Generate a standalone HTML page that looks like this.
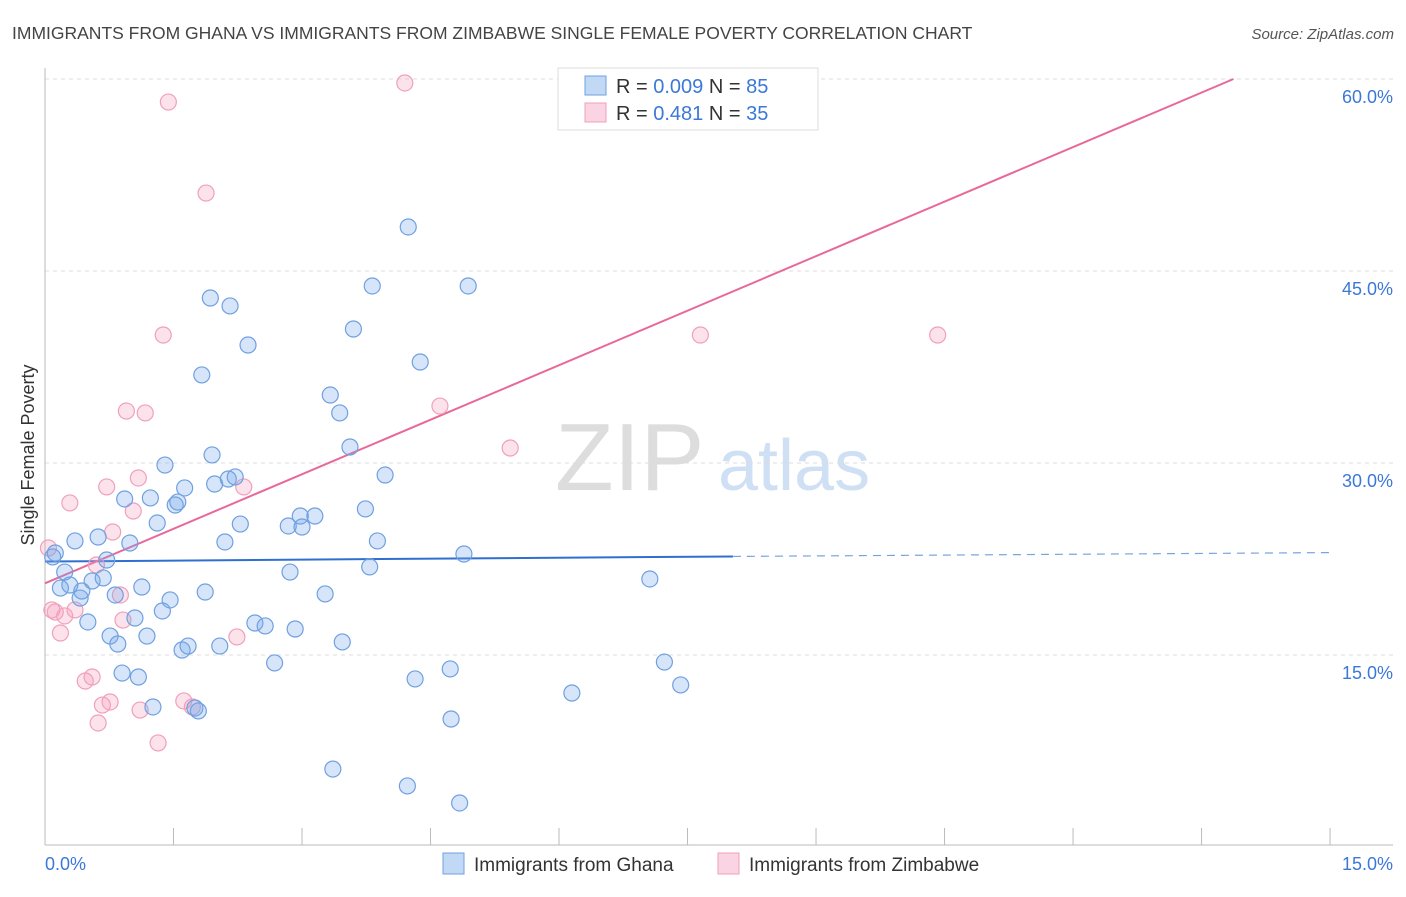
<!DOCTYPE html>
<html><head><meta charset="utf-8"><style>
body{margin:0;background:#fff;font-family:"Liberation Sans",sans-serif;}
svg text{font-family:"Liberation Sans",sans-serif;}
</style></head><body>
<svg id="chart" width="1406" height="892" viewBox="0 0 1406 892" xmlns="http://www.w3.org/2000/svg">
<text x="12" y="39" font-size="17.5" fill="#444">IMMIGRANTS FROM GHANA VS IMMIGRANTS FROM ZIMBABWE SINGLE FEMALE POVERTY CORRELATION CHART</text>
<text x="1394" y="39" font-size="15" fill="#555" text-anchor="end" font-style="italic">Source: ZipAtlas.com</text>
<g>
<text x="555" y="490" font-size="96" fill="#ddd" font-family="Liberation Serif,serif">ZIP</text>
<text x="718" y="490" font-size="72" fill="#cfe0f5">atlas</text>
</g>
<text transform="translate(34,455) rotate(-90)" font-size="18" fill="#333" text-anchor="middle">Single Female Poverty</text>
<g id="grid"></g><g id="axes"></g><g id="lines"></g><g id="pts"></g>
<g>
<rect x="558" y="68" width="260" height="62" fill="#fff" stroke="#ddd"/>
<rect x="585" y="76" width="21" height="19" fill="rgba(120,170,235,0.45)" stroke="#6fa0e0"/>
<rect x="585" y="103" width="21" height="19" fill="rgba(245,160,190,0.45)" stroke="#f0a0bb"/>
<text x="616" y="93" font-size="20" fill="#333">R = <tspan fill="#3b78d8">0.009</tspan>   N = <tspan fill="#3b78d8">85</tspan></text>
<text x="616" y="120" font-size="20" fill="#333">R =  <tspan fill="#3b78d8">0.481</tspan>   N = <tspan fill="#3b78d8">35</tspan></text>
</g>
<g>
<rect x="443" y="853" width="21" height="21" fill="rgba(120,170,235,0.45)" stroke="#6fa0e0"/>
<text x="474" y="871" font-size="19" fill="#333">Immigrants from Ghana</text>
<rect x="718" y="853" width="21" height="21" fill="rgba(245,160,190,0.45)" stroke="#f0a0bb"/>
<text x="749" y="871" font-size="19" fill="#333">Immigrants from Zimbabwe</text>
</g>
</svg>
<script>
const ghanaX=[0.12,0.09,0.35,0.23,0.18,0.29,0.41,0.43,0.50,0.55,0.62,0.68,0.72,0.76,0.82,0.85,0.90,0.93,0.99,1.05,1.09,1.13,1.19,1.23,1.26,1.31,1.37,1.40,1.46,1.52,1.55,1.60,1.63,1.67,1.75,1.79,1.83,1.87,1.93,1.95,1.98,2.04,2.10,2.14,2.16,2.22,2.28,2.37,2.45,2.57,2.68,2.84,2.86,2.92,2.98,3.00,3.15,3.27,3.33,3.36,3.44,3.47,3.56,3.60,3.74,3.79,3.82,3.88,3.97,4.23,4.24,4.32,4.38,4.73,4.74,4.84,4.89,4.94,6.15,7.06,7.23,7.42];
const ghanaY=[22.97,22.66,23.91,21.48,20.23,20.47,19.45,20.0,17.58,20.78,24.22,21.02,22.42,16.48,19.69,15.86,13.59,27.19,23.75,17.89,13.28,20.31,16.48,27.27,10.94,25.31,18.44,29.84,19.30,26.72,26.95,15.39,28.05,15.70,10.86,10.63,36.88,19.92,42.89,30.63,28.36,15.70,23.83,28.75,42.27,28.91,25.23,39.22,17.5,17.27,14.38,25.08,21.48,17.03,25.86,25.0,25.86,19.77,35.31,6.09,33.91,16.02,31.25,40.47,26.41,21.88,43.83,23.91,29.06,4.77,48.44,13.13,37.89,13.91,10.0,3.44,22.89,43.83,12.03,20.94,14.45,12.66];
const zimX=[0.04,0.08,0.12,0.18,0.23,0.29,0.35,0.47,0.55,0.60,0.62,0.67,0.72,0.76,0.79,0.88,0.91,0.95,1.03,1.09,1.11,1.17,1.32,1.38,1.44,1.62,1.72,1.88,2.24,2.32,4.20,4.61,5.43,7.65,10.42];
const zimY=[23.36,18.52,18.36,16.72,18.05,26.88,18.52,12.97,13.28,22.03,9.69,11.09,28.13,11.33,24.61,19.69,17.73,34.06,26.25,28.83,10.70,33.91,8.13,40.0,58.2,11.41,10.94,51.09,16.41,28.13,59.69,34.45,31.17,40.0,40.0];
const yTicks=[15,30,45,60];
const yTickLabels=["15.0%","30.0%","45.0%","60.0%"];
const xTickVals=[0,1.5,3,4.5,6,7.5,9,10.5,12,13.5,15];
const ghanaTrend=[22.3,22.7,23.0]; // at x=0, 8.03, 15
const zimTrend=[20.6,2.84]; // intercept, slope
const NS='http://www.w3.org/2000/svg';
const sx=v=>45+v*85.67, sy=v=>847-v*12.8;
function mk(tag,attrs,parent){const e=document.createElementNS(NS,tag);for(const k in attrs)e.setAttribute(k,attrs[k]);document.getElementById(parent).appendChild(e);return e;}
yTicks.forEach((t,i)=>{
 const g=mk('line',{x1:45,x2:1393,y1:sy(t),y2:sy(t),stroke:'#ddd','stroke-dasharray':'4,4'},'grid');
 
 
 const l=mk('text',{x:1393,y:sy(t)+24,'font-size':18,fill:'#3b78d8','text-anchor':'end'},'grid');
 l.textContent=yTickLabels[i];
 
 
});
const ax=mk('line',{x1:45,x2:45,y1:68,y2:845,stroke:'#bbb'},'axes');


const bx=mk('line',{x1:45,x2:1393,y1:845,y2:845,stroke:'#bbb'},'axes');


xTickVals.forEach(v=>{
 const t=mk('line',{x1:sx(v),x2:sx(v),y1:828,y2:845,stroke:'#bbb'},'axes');
 
 
});
const xl0=mk('text',{x:45,y:870,'font-size':18,fill:'#3b78d8'},'axes');xl0.textContent='0.0%';


const xl1=mk('text',{x:1393,y:870,'font-size':18,fill:'#3b78d8','text-anchor':'end'},'axes');xl1.textContent='15.0%';


function dots(xs,ys,fill,stroke,name){xs.forEach((x,i)=>{
 const c=mk('circle',{cx:sx(x),cy:sy(ys[i]),r:8,fill:fill,stroke:stroke,'stroke-width':1.2},'pts');
 
 
});}
dots(zimX,zimY,'rgba(245,160,190,0.3)','#f0a0bb','zimbabwe-point');
dots(ghanaX,ghanaY,'rgba(120,170,235,0.3)','#6fa0e0','ghana-point');
const b1=mk('line',{x1:sx(0),y1:sy(ghanaTrend[0]),x2:sx(8.03),y2:sy(ghanaTrend[1]),stroke:'#2f6fd0','stroke-width':2},'lines');


const b2=mk('line',{x1:sx(8.03),y1:sy(ghanaTrend[1]),x2:sx(15),y2:sy(ghanaTrend[2]),stroke:'#7aa3dd','stroke-width':1.2,'stroke-dasharray':'8,6'},'lines');


const xEnd=(60-zimTrend[0])/zimTrend[1];
const p1=mk('line',{x1:sx(0),y1:sy(zimTrend[0]),x2:sx(xEnd),y2:sy(60),stroke:'#e8689a','stroke-width':2},'lines');


</script>
</body></html>
